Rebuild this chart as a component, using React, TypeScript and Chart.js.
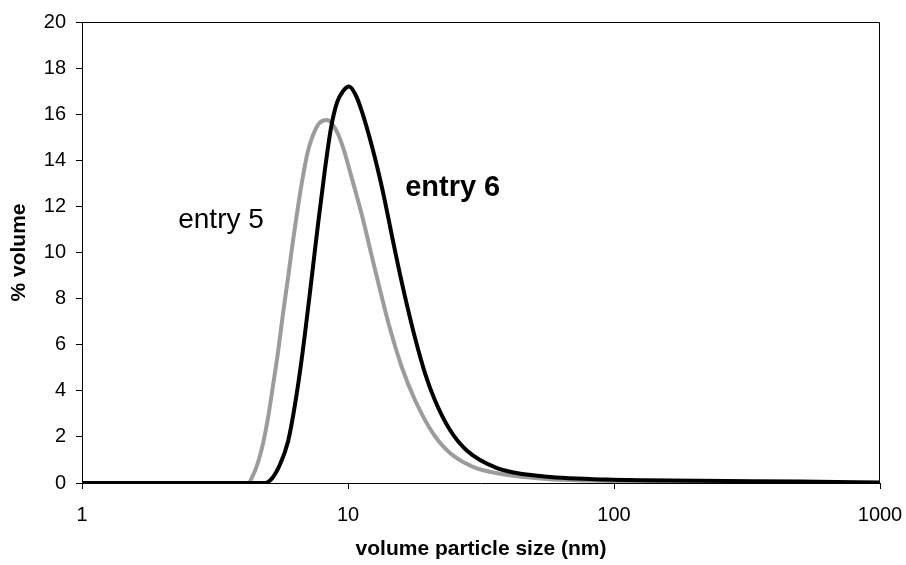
import React, { useEffect, useRef } from "react";
import { Chart, registerables } from "chart.js";

Chart.register(...registerables);

// entry 5 (grey curve)
const entry5X = [1, 4.0, 4.21, 4.4, 4.59, 4.79, 5.0, 5.22, 5.46, 5.69, 5.95, 6.21, 6.49, 6.77, 7.07, 7.39, 7.78, 8.34, 8.93, 9.49, 10.35, 11.29, 12.31, 13.31, 14.38, 15.96, 17.86, 20.87, 24.18, 29.51, 37.27, 52.7, 88.5, 209, 500, 1000];
const entry5Y = [0, 0, 0.0, 0.35, 0.9, 1.7, 2.8, 4.2, 5.7, 7.3, 8.9, 10.5, 12.0, 13.3, 14.4, 15.1, 15.6, 15.75, 15.4, 14.7, 13.2, 11.6, 9.8, 8.2, 6.7, 5.0, 3.6, 2.15, 1.3, 0.7, 0.4, 0.2, 0.1, 0.06, 0.03, 0.0];

// entry 6 (black curve)
const entry6X = [1, 4.6, 4.875, 5.18, 5.55, 5.95, 6.32, 6.72, 7.2, 7.71, 8.19, 8.63, 9.09, 9.58, 10.09, 10.72, 11.29, 12.31, 13.19, 13.78, 14.64, 15.42, 16.52, 17.86, 19.48, 21.24, 24.18, 28.03, 36.33, 52.7, 94, 209, 500, 1000];
const entry6Y = [0, 0, 0.0, 0.2, 0.8, 1.8, 3.4, 5.5, 8.3, 11.2, 13.6, 15.4, 16.5, 17.0, 17.2, 16.8, 16.1, 14.6, 13.2, 12.2, 10.7, 9.45, 7.9, 6.3, 4.76, 3.58, 2.3, 1.4, 0.65, 0.3, 0.15, 0.1, 0.06, 0.02];

const xTickValues = [1, 10, 100, 1000];
const yMin = 0;
const yMax = 20;
const yStep = 2;

const seriesNames = ["entry 5", "entry 6"];
const labelTexts = ["entry 5", "entry 6"];
const labelX = [2.3, 16.4];
const labelY = [11.06, 12.44];
const labelBold = [false, true];
const labelSize = [28, 29];

const FONT = "'Liberation Sans', Arial, sans-serif";

export default function App() {
  const ref = useRef<HTMLCanvasElement>(null);

  useEffect(() => {
    document.body.style.margin = "0";
    const canvas = ref.current;
    if (!canvas) return;

    const boxPlugin = {
      id: "boxPlugin",
      afterDatasetsDraw(chart: any) {
        const { ctx, chartArea } = chart;
        const l = Math.round(chartArea.left) + 0.5;
        const t = Math.round(chartArea.top) + 0.5;
        const r = Math.round(chartArea.right) - 0.5;
        const b = Math.round(chartArea.bottom) - 0.5;
        ctx.save();
        ctx.strokeStyle = "#000";
        ctx.lineWidth = 1;
        ctx.beginPath();
        ctx.moveTo(l, t);
        ctx.lineTo(r, t);
        ctx.lineTo(r, b);
        ctx.stroke();
        ctx.restore();
      },
    };

    const labelPlugin = {
      id: "labelPlugin",
      afterDatasetsDraw(chart: any) {
        const { ctx, scales } = chart;
        ctx.save();
        ctx.fillStyle = "#000";
        ctx.textAlign = "left";
        ctx.textBaseline = "alphabetic";
        labelTexts.forEach((txt, i) => {
          ctx.font = `${labelBold[i] ? "bold " : ""}${labelSize[i]}px ${FONT}`;
          const px = scales.x.getPixelForValue(labelX[i]);
          const py = scales.y.getPixelForValue(labelY[i]);
          ctx.fillText(txt, px, py);
        });
        ctx.restore();
      },
    };

    const chart = new Chart(canvas, {
      type: "line",
      data: {
        datasets: [
          {
            label: seriesNames[1],
            data: entry6X.map((x, i) => ({ x, y: entry6Y[i] })),
            borderColor: "#000000",
            borderWidth: 4,
            pointRadius: 0,
            fill: false,
            cubicInterpolationMode: "monotone",
            borderJoinStyle: "round",
            borderCapStyle: "round",
            order: 0,
          },
          {
            label: seriesNames[0],
            data: entry5X.map((x, i) => ({ x, y: entry5Y[i] })),
            borderColor: "#9c9c9c",
            borderWidth: 4,
            pointRadius: 0,
            fill: false,
            cubicInterpolationMode: "monotone",
            borderJoinStyle: "round",
            borderCapStyle: "round",
            order: 1,
          },
        ],
      },
      options: {
        responsive: false,
        animation: false,
        events: [],
        layout: { padding: { top: 20, right: 26, left: 0, bottom: 0 } },
        plugins: {
          legend: { display: false },
          tooltip: { enabled: false },
        },
        scales: {
          x: {
            type: "logarithmic",
            min: xTickValues[0],
            max: xTickValues[xTickValues.length - 1],
            afterBuildTicks: (s: any) => {
              s.ticks = xTickValues.map((v) => ({ value: v }));
            },
            afterFit: (s: any) => {
              s.height = 82;
              s.paddingLeft = 0;
              s.paddingRight = 0;
            },
            ticks: {
              autoSkip: false,
              maxRotation: 0,
              color: "#000",
              padding: 14,
              font: { family: FONT, size: 20 },
              callback: (v: any) => String(v),
            },
            grid: {
              display: true,
              drawOnChartArea: false,
              drawTicks: true,
              tickLength: 6,
              color: "#000",
            },
            border: { display: true, color: "#000", width: 1 },
            title: {
              display: true,
              text: "volume particle size (nm)",
              color: "#000",
              font: { family: FONT, size: 21, weight: "bold" },
              padding: { top: 0, bottom: 3 },
            },
          },
          y: {
            type: "linear",
            min: yMin,
            max: yMax,
            afterFit: (s: any) => {
              s.width = 82;
            },
            ticks: {
              stepSize: yStep,
              color: "#000",
              padding: 10,
              font: { family: FONT, size: 20 },
            },
            grid: {
              display: true,
              drawOnChartArea: false,
              drawTicks: true,
              tickLength: 6,
              color: "#000",
            },
            border: { display: true, color: "#000", width: 1 },
            title: {
              display: true,
              text: "% volume",
              color: "#000",
              font: { family: FONT, size: 21, weight: "bold" },
              padding: { top: 7, bottom: 0 },
            },
          },
        },
      },
      plugins: [boxPlugin, labelPlugin],
    } as any);

    return () => chart.destroy();
  }, []);

  return <canvas ref={ref} width={906} height={565} style={{ display: "block" }} />;
}
